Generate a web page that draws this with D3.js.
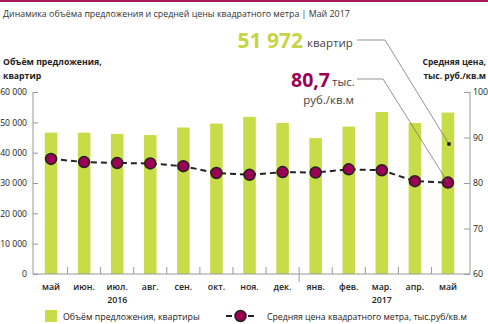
<!DOCTYPE html>
<html><head><meta charset="utf-8">
<script src="https://cdn.jsdelivr.net/npm/d3@7"></script>
<style>
body{margin:0;background:#fff;}
svg{display:block;font-family:"Open Sans",sans-serif;}
</style></head>
<body><svg id="c" width="488" height="324"></svg>
<script>
const months = ["май","июн.","июл.","авг.","сен.","окт.","ноя.","дек.","янв.","фев.","мар.","апр.","май"];
const supply = [46600,46600,46200,45800,48300,49600,51800,49800,44800,48600,53400,49800,53200];
const price = [85.3,84.6,84.4,84.3,83.7,82.2,81.8,82.4,82.3,83.0,82.8,80.4,80.1];
const leftTicks = [0,10000,20000,30000,40000,50000,60000];
const rightTicks = [60,70,80,90,100];
const years = [{label:"2016", idx:2},{label:"2017", idx:10}];

const svg = d3.select("#c");
const green = "#c8dc4a", magenta = "#9b0055", dark = "#222";

svg.append("rect").attr("x",0).attr("y",0).attr("width",488).attr("height",2).attr("fill","#a3195b");
svg.append("text").attr("x",3).attr("y",17).attr("font-size",8.85).attr("fill","#333")
  .text("Динамика объёма предложения и средней цены квадратного метра | Май 2017");

const x = d3.scaleBand().domain(d3.range(months.length)).range([34.5,464.5]).paddingInner(0.62).paddingOuter(0.31);
const yL = d3.scaleLinear().domain([0,60000]).range([274,92]);
const yR = d3.scaleLinear().domain([60,100]).range([274,92]);
const cx = i => x(i) + x.bandwidth()/2;

// bars
svg.append("g").selectAll("rect").data(supply).join("rect")
  .attr("x",(d,i)=>x(i)).attr("width",x.bandwidth())
  .attr("y",d=>yL(d)).attr("height",d=>yL(0)-yL(d)).attr("fill",green);

// left axis
const fmt = d => d3.format(",")(d).replace(/,/g," ");
const gl = svg.append("g").attr("transform","translate(33,0)")
  .call(d3.axisRight(yL).tickValues(leftTicks).tickSize(5).tickFormat(fmt));
gl.select(".domain").attr("stroke","#999").attr("d","M0,92V274");
gl.selectAll(".tick line").attr("stroke","#999");
gl.selectAll(".tick text").attr("x",-6).attr("text-anchor","end").attr("font-size",8.6).attr("fill",dark).attr("font-family","Open Sans");

// right axis
const gr = svg.append("g").attr("transform","translate(470,0)")
  .call(d3.axisLeft(yR).tickValues(rightTicks).tickSize(6));
gr.select(".domain").attr("stroke","#999").attr("d","M0,92V274");
gr.selectAll(".tick line").attr("stroke","#999");
gr.selectAll(".tick text").attr("x",3).attr("text-anchor","start").attr("font-size",8.8).attr("fill",dark).attr("font-family","Open Sans");

// bottom axis
svg.append("line").attr("x1",33).attr("x2",470).attr("y1",274).attr("y2",274).attr("stroke","#999");
const bounds = d3.range(1,months.length).map(i => x(i) - x.step()*x.paddingInner()/2);
svg.append("g").selectAll("line").data(bounds).join("line")
  .attr("x1",d=>d).attr("x2",d=>d).attr("y1",267).attr("y2",(d,i)=>i===7?282:274)
  .attr("stroke","#999");
svg.append("g").selectAll("text").data(months).join("text")
  .attr("x",(d,i)=>cx(i)).attr("y",290).attr("text-anchor","middle")
  .attr("font-size",8.8).attr("font-weight",600).attr("fill",dark).text(d=>d);
svg.append("g").selectAll("text").data(years).join("text")
  .attr("x",d=>cx(d.idx)).attr("y",303).attr("text-anchor","middle")
  .attr("font-size",8.8).attr("font-weight",600).attr("fill",dark).text(d=>d.label);

// axis titles
const lt = svg.append("text").attr("x",3).attr("y",65).attr("font-size",8.7).attr("font-weight",700).attr("fill",dark);
lt.append("tspan").attr("x",3).text("Объём предложения,");
lt.append("tspan").attr("x",3).attr("dy",14).text("квартир");
const rt = svg.append("text").attr("x",486).attr("y",65).attr("font-size",8.5).attr("font-weight",700).attr("fill",dark).attr("text-anchor","end");
rt.append("tspan").attr("x",486).text("Средняя цена,");
rt.append("tspan").attr("x",486).attr("dy",14).text("тыс. руб./кв.м");

// price line
const line = d3.line().x((d,i)=>cx(i)).y(d=>yR(d));
svg.append("path").datum(price).attr("d",line).attr("fill","none")
  .attr("stroke",dark).attr("stroke-width",2).attr("stroke-dasharray","6,4");
svg.append("g").selectAll("circle").data(price).join("circle")
  .attr("cx",(d,i)=>cx(i)).attr("cy",d=>yR(d)).attr("r",5.5)
  .attr("fill",magenta).attr("stroke",dark).attr("stroke-width",1.5);

// annotations
const last = months.length-1;
svg.append("text").attr("x",303).attr("y",48).attr("text-anchor","end")
  .attr("font-size",21).attr("font-weight",700).attr("fill","#c5d545").text("51 972");
svg.append("text").attr("x",307).attr("y",47).attr("font-size",11.5).attr("fill","#444").text("квартир");
svg.append("path").attr("d",`M357,40H385L${cx(last)+1},144`).attr("fill","none").attr("stroke","#666").attr("stroke-width",0.7);
svg.append("circle").attr("cx",cx(last)+1).attr("cy",144).attr("r",2).attr("fill",dark);

svg.append("text").attr("x",330).attr("y",87).attr("text-anchor","end")
  .attr("font-size",19.5).attr("font-weight",700).attr("fill",magenta).text("80,7");
svg.append("text").attr("x",332).attr("y",86).attr("font-size",11.5).attr("fill","#444").text("тыс.");
svg.append("text").attr("x",354).attr("y",104).attr("text-anchor","end").attr("font-size",11.5).attr("fill","#444").text("руб./кв.м");
svg.append("path").attr("d",`M357,79H383L${cx(last)},${yR(price[last])}`).attr("fill","none").attr("stroke","#666").attr("stroke-width",0.7);

// legend
svg.append("rect").attr("x",45).attr("y",310).attr("width",12).attr("height",12).attr("fill",green);
svg.append("text").attr("x",63).attr("y",320).attr("font-size",8.8).attr("fill",dark).text("Объём предложения, квартиры");
svg.append("line").attr("x1",226).attr("x2",255).attr("y1",316).attr("y2",316).attr("stroke",dark).attr("stroke-width",2).attr("stroke-dasharray","6,16");
svg.append("circle").attr("cx",240.5).attr("cy",316).attr("r",5.5).attr("fill",magenta).attr("stroke",dark).attr("stroke-width",1.5);
svg.append("text").attr("x",267).attr("y",320).attr("font-size",8.7).attr("fill",dark).text("Средняя цена квадратного метра, тыс.руб/кв.м");
</script></body></html>
